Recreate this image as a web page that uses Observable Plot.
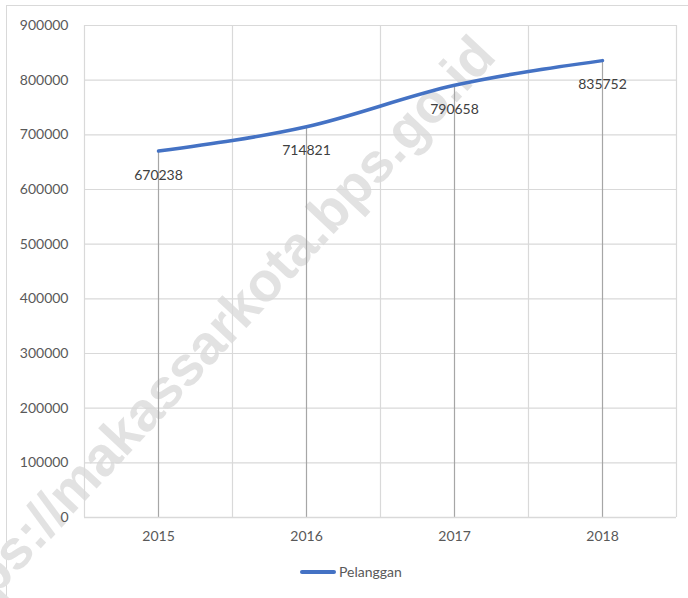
<!DOCTYPE html>
<html>
<head>
<meta charset="utf-8">
<script src="https://cdn.jsdelivr.net/npm/d3@7"></script>
<script src="https://cdn.jsdelivr.net/npm/@observablehq/plot@0.6"></script>
<style>
  html, body { margin: 0; padding: 0; background: #fff; }
  #wrap { position: relative; width: 688px; height: 598px; overflow: hidden; font-family: Lato, "Open Sans", sans-serif; }
  #frame { position: absolute; left: 6px; top: 5px; width: 800px; height: 800px; border-left: 1.5px solid #d9d9d9; border-top: 1.5px solid #d9d9d9; }
  #wm { position: absolute; left: -88px; top: 619px; transform-origin: 0 0; transform: rotate(-47deg); line-height: 1;
        font: bold 55px/1 "Liberation Sans", Arial, sans-serif; color: #e2e2e2; white-space: nowrap; }
  #chart { position: absolute; left: 0; top: 0; }
  #legend { position: absolute; left: 0; top: 555px; width: 688px; height: 43px; }
  .leg { position: absolute; left: 300px; top: 8px; display: flex; align-items: center; font-size: 14px; color: #595959; }
  .sw { width: 36px; height: 4px; background: #4472C4; border-radius: 2px; margin-right: 3px; }
</style>
</head>
<body>
<div id="wrap">
  <div id="frame"></div>
  <div id="wm">https://makassarkota.bps.go.id</div>
  <div id="chart"></div>
  <div id="legend"><div class="leg"><div class="sw"></div><span>Pelanggan</span></div></div>
</div>
<script>
const years = [2015, 2016, 2017, 2018];
const pelanggan = [670238, 714821, 790658, 835752];
const yTicks = [0, 100000, 200000, 300000, 400000, 500000, 600000, 700000, 800000, 900000];
const seriesName = "Pelanggan";

const data = years.map((y, i) => ({year: y, value: pelanggan[i]}));
const bounds = years.map(y => y - 0.5).concat([years[years.length - 1] + 0.5]);

const chart = Plot.plot({
  width: 688,
  height: 555,
  marginTop: 25,
  marginBottom: 38,
  marginLeft: 84,
  marginRight: 12,
  style: {fontFamily: "Lato, 'Open Sans', sans-serif", fontSize: "14px", color: "#595959", background: "transparent"},
  x: {type: "linear", domain: [bounds[0], bounds[bounds.length - 1]]},
  y: {domain: [0, 900000]},
  marks: [
    Plot.gridY(yTicks, {stroke: "#d9d9d9", strokeOpacity: 1, strokeWidth: 1.2}),
    Plot.gridX(bounds, {stroke: "#d9d9d9", strokeOpacity: 1, strokeWidth: 1.2}),
    Plot.ruleX(data, {x: "year", y1: 0, y2: "value", stroke: "#a6a6a6", strokeWidth: 1.2}),
    Plot.ruleY([0], {stroke: "#d9d9d9", strokeWidth: 1.5}),
    Plot.axisY(yTicks, {tickSize: 0, tickPadding: 16, tickFormat: d => String(d), fontSize: 14, fill: "#595959", label: null}),
    Plot.axisX(years, {tickSize: 0, tickPadding: 14, tickFormat: d => String(d), fontSize: 14, fill: "#595959", label: null}),
    Plot.line(data, {x: "year", y: "value", stroke: "#4472C4", strokeWidth: 3.5, curve: "monotone-x", strokeLinecap: "round"}),
    Plot.text(data, {x: "year", y: "value", text: d => String(d.value), dy: 24, fontSize: 14, fill: "#404040"})
  ]
});
document.getElementById("chart").appendChild(chart);
</script>
</body>
</html>
